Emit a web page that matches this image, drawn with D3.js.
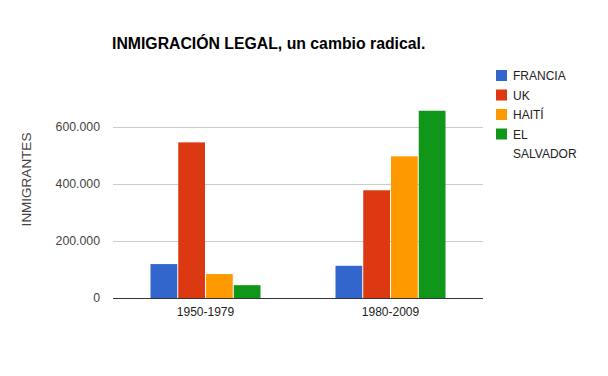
<!DOCTYPE html>
<html>
<head>
<meta charset="utf-8">
<script src="https://cdn.jsdelivr.net/npm/d3@7"></script>
<style>
  body { margin: 0; background: #fff; }
  text { font-family: Arial, "Liberation Sans", sans-serif; }
</style>
</head>
<body>
<div id="chart"></div>
<script>
const periods = ["1950-1979", "1980-2009"];
const countries = ["FRANCIA", "UK", "HAITÍ", "EL SALVADOR"];
const francia = [119000, 113000];
const uk = [546000, 378000];
const haiti = [84000, 497000];
const elSalvador = [45000, 657000];
const yTicks = [0, 200000, 400000, 600000];
const colors = ["#3366cc", "#dc3912", "#ff9900", "#109618"];

const seriesValues = [francia, uk, haiti, elSalvador];

const width = 608, height = 376;
const margin = { top: 127, right: 125, bottom: 78, left: 113 };
const plotW = width - margin.left - margin.right;
const plotH = height - margin.top - margin.bottom;

const svg = d3.select("#chart")
    .append("svg")
    .attr("width", width)
    .attr("height", height);

const g = svg.append("g")
    .attr("transform", `translate(${margin.left},${margin.top})`);

const x0 = d3.scaleBand()
    .domain(periods)
    .range([0, plotW])
    .paddingInner(0.4)
    .paddingOuter(0.2);

const x1 = d3.scaleBand()
    .domain(countries)
    .range([0, x0.bandwidth()]);

const y = d3.scaleLinear()
    .domain([0, 600000])
    .range([plotH, 0]);

// gridlines
g.append("g")
    .selectAll("line")
    .data(yTicks.slice(1))
    .join("line")
    .attr("x1", 0)
    .attr("x2", plotW)
    .attr("y1", d => Math.round(y(d)) + 0.5)
    .attr("y2", d => Math.round(y(d)) + 0.5)
    .attr("stroke", "#cccccc");

// y tick labels
g.append("g")
    .selectAll("text")
    .data(yTicks)
    .join("text")
    .attr("x", -13)
    .attr("y", d => y(d) + 4)
    .attr("text-anchor", "end")
    .attr("fill", "#444")
    .style("font-size", "12.3px")
    .text(d => d3.format(",")(d).replace(/,/g, "."));

// bars
const groups = g.append("g")
    .selectAll("g")
    .data(periods)
    .join("g")
    .attr("transform", d => `translate(${x0(d)},0)`);

groups.selectAll("rect")
    .data((p, i) => countries.map((c, j) => ({ c, v: seriesValues[j][i], color: colors[j] })))
    .join("rect")
    .attr("x", d => x1(d.c) + 0.5)
    .attr("width", x1.bandwidth() - 1)
    .attr("y", d => y(d.v))
    .attr("height", d => plotH - y(d.v))
    .attr("fill", d => d.color);

// baseline
g.append("line")
    .attr("x1", 0)
    .attr("x2", plotW)
    .attr("y1", plotH + 0.5)
    .attr("y2", plotH + 0.5)
    .attr("stroke", "#333");

// x labels
g.append("g")
    .selectAll("text")
    .data(periods)
    .join("text")
    .attr("x", d => x0(d) + x0.bandwidth() / 2)
    .attr("y", plotH + 18)
    .attr("text-anchor", "middle")
    .attr("fill", "#222")
    .style("font-size", "12px")
    .text(d => d);

// y axis title
svg.append("text")
    .attr("transform", `translate(31,${margin.top + plotH / 2 - 33}) rotate(-90)`)
    .attr("text-anchor", "middle")
    .attr("fill", "#444")
    .style("font-size", "13.5px")
    .text("INMIGRANTES");

// title
svg.append("text")
    .attr("x", 112)
    .attr("y", 49)
    .attr("fill", "#000")
    .style("font-size", "15.8px")
    .style("font-weight", "bold")
    .text("INMIGRACIÓN LEGAL, un cambio radical.");

// legend
const legend = svg.append("g")
    .attr("transform", "translate(496,70)");

const items = legend.selectAll("g")
    .data(countries)
    .join("g")
    .attr("transform", (d, i) => `translate(0,${i * 19.5})`);

items.append("rect")
    .attr("width", 11)
    .attr("height", 11)
    .attr("fill", (d, i) => colors[i]);

items.append("text")
    .attr("x", 17)
    .attr("y", 10)
    .attr("fill", "#222")
    .style("font-size", "12px")
    .selectAll("tspan")
    .data(d => d === "EL SALVADOR" ? ["EL", "SALVADOR"] : [d])
    .join("tspan")
    .attr("x", 17)
    .attr("dy", (d, i) => i === 0 ? 0 : 19)
    .text(d => d);
</script>
</body>
</html>
